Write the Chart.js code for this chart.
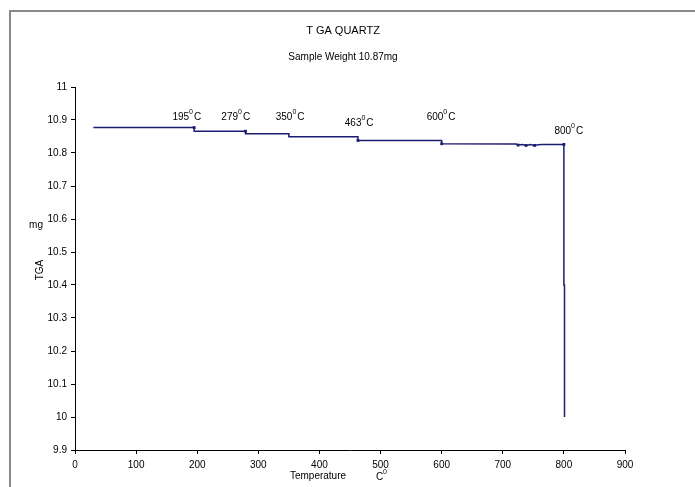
<!DOCTYPE html>
<html lang="en">
<head>
    <meta charset="UTF-8">
    <title>TGA Quartz</title>
    <script src="https://cdn.jsdelivr.net/npm/chart.js"></script>
    <style>
        html, body { margin: 0; padding: 0; background: #fff; }
        #wrap { width: 695px; height: 487px; }
    </style>
</head>
<body>
    <div id="wrap"><canvas id="tga" width="695" height="487"></canvas></div>

    <script>
        // Temperature (C) and weight (mg)
        const temps   = [30, 195, 195, 279, 279, 350, 350, 463, 463, 600, 600, 722, 725, 732, 738, 745, 752, 758, 765, 798, 800, 800, 801, 801];
        const weights = [10.877, 10.877, 10.866, 10.866, 10.858, 10.858, 10.849, 10.849, 10.838, 10.838, 10.828,
                         10.827, 10.824, 10.826, 10.823, 10.826, 10.823, 10.825, 10.826, 10.826, 10.826, 10.40, 10.40, 10.0];
        // points that show a small square blip on the trace
        const markIdx = [1, 3, 8, 10, 12, 14, 16, 20];

        // step annotations
        const stepLabels = ['195', '279', '350', '463', '600', '800'];
        const stepLabelX = [183, 263, 352, 465, 599, 808];
        const stepLabelY = [10.909, 10.909, 10.909, 10.891, 10.909, 10.867];

        const yTicks = [11, 10.9, 10.8, 10.7, 10.6, 10.5, 10.4, 10.3, 10.2, 10.1, 10, 9.9];
        const xTicks = [0, 100, 200, 300, 400, 500, 600, 700, 800, 900];

        const FONT = 'Liberation Sans, Arial, sans-serif';

        function degText(ctx, x, y, num) {
            // draws "num" + superscript 0 + "C", centred on x
            ctx.font = '10px ' + FONT;
            const w1 = ctx.measureText(num).width;
            const w3 = ctx.measureText('C').width;
            ctx.font = '7px ' + FONT;
            const w2 = ctx.measureText('0').width;
            const total = w1 + w2 + w3 + 1;
            let cx = x - total / 2;
            ctx.textAlign = 'left';
            ctx.textBaseline = 'middle';
            ctx.font = '10px ' + FONT;
            ctx.fillText(num, cx, y);
            cx += w1;
            ctx.font = '7px ' + FONT;
            ctx.fillText('0', cx, y - 5);
            cx += w2 + 1;
            ctx.font = '10px ' + FONT;
            ctx.fillText('C', cx, y);
        }

        const decor = {
            id: 'decor',
            beforeDraw(chart) {
                const ctx = chart.ctx;
                ctx.save();
                ctx.fillStyle = '#fff';
                ctx.fillRect(0, 0, chart.width, chart.height);
                ctx.strokeStyle = '#8a8a8a';
                ctx.lineWidth = 2;
                ctx.strokeRect(10, 11, 720, 520);
                ctx.restore();
            },
            afterDraw(chart) {
                const ctx = chart.ctx;
                const xs = chart.scales.x, ys = chart.scales.y;
                ctx.save();
                ctx.fillStyle = '#000';
                ctx.textAlign = 'center';
                ctx.textBaseline = 'middle';
                ctx.font = '11px ' + FONT;
                ctx.fillText('T GA QUARTZ', 343, 31);
                ctx.font = '10px ' + FONT;
                ctx.fillText('Sample Weight 10.87mg', 343, 57);

                // y axis title
                ctx.fillText('mg', 36, 225);
                ctx.save();
                ctx.translate(40, 270);
                ctx.rotate(-Math.PI / 2);
                ctx.fillText('TGA', 0, 0);
                ctx.restore();

                // x axis title
                ctx.fillText('Temperature', 318, 476);
                ctx.textAlign = 'left';
                ctx.fillText('C', 376, 477);
                ctx.font = '7px ' + FONT;
                ctx.fillText('0', 383, 472);

                for (let i = 0; i < stepLabels.length; i++) {
                    degText(ctx, xs.getPixelForValue(stepLabelX[i]), ys.getPixelForValue(stepLabelY[i]), stepLabels[i]);
                }
                ctx.restore();
            }
        };

        const points = temps.map((t, i) => ({ x: t, y: weights[i] }));

        new Chart(document.getElementById('tga'), {
            type: 'line',
            data: {
                datasets: [{
                    data: points,
                    borderColor: '#1c1c72',
                    backgroundColor: '#1c1c72',
                    borderWidth: 1.5,
                    pointStyle: 'rect',
                    pointRadius: ctx => markIdx.includes(ctx.dataIndex) ? 2 : 0,
                    pointBorderWidth: 0,
                    tension: 0,
                    fill: false
                }]
            },
            options: {
                responsive: false,
                animation: false,
                events: [],
                layout: { padding: { top: 87, right: 70, left: 0, bottom: 0 } },
                plugins: { legend: { display: false }, tooltip: { enabled: false } },
                scales: {
                    x: {
                        type: 'linear',
                        min: 0, max: 900,
                        afterBuildTicks(scale) { scale.ticks = xTicks.map(v => ({ value: v })); },
                        afterFit(scale) { scale.height = 37; },
                        grid: { drawOnChartArea: false, drawTicks: true, tickLength: 4, color: '#000', lineWidth: 1 },
                        border: { color: '#000', width: 1 },
                        ticks: { color: '#000', font: { family: FONT, size: 10 }, padding: 5, maxRotation: 0 }
                    },
                    y: {
                        type: 'linear',
                        min: 9.9, max: 11,
                        afterBuildTicks(scale) { scale.ticks = yTicks.map(v => ({ value: v })); },
                        afterFit(scale) { scale.width = 75; },
                        grid: { drawOnChartArea: false, drawTicks: true, tickLength: 4, color: '#000', lineWidth: 1 },
                        border: { color: '#000', width: 1 },
                        ticks: {
                            color: '#000', font: { family: FONT, size: 10 }, padding: 4,
                            callback: v => String(Math.round(v * 10) / 10)
                        }
                    }
                }
            },
            plugins: [decor]
        });
    </script>
</body>
</html>
